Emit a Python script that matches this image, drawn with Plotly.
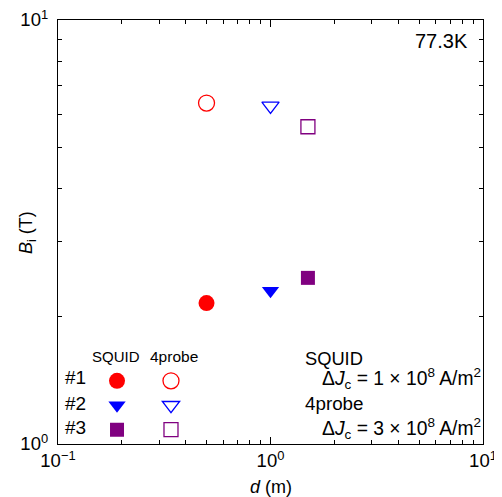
import plotly.graph_objects as go

# ---- data ----
samples = ["#1", "#2", "#3"]
d_m = [0.5, 1.0, 1.5]
Bi_squid = [2.15, 2.30, 2.465]
Bi_4probe = [6.37, 6.27, 5.60]
colors = ["red", "blue", "purple"]
squid_symbols = ["circle", "triangle-down", "square"]
probe_symbols = ["circle-open", "triangle-down-open", "square-open"]
marker_sizes = [16, 15, 14]
x_tickvals = [0.1, 1, 10]
x_ticktext = ["10<sup>\u22121</sup>", "10<sup>0</sup>", "10<sup>1</sup>"]
y_tickvals = [1, 10]
y_ticktext = ["10<sup>0</sup>", "10<sup>1</sup>"]

FONT = "Arial, Liberation Sans, sans-serif"

fig = go.Figure()
for i, s in enumerate(samples):
    fig.add_trace(go.Scatter(
        x=[d_m[i]], y=[Bi_squid[i]], mode="markers", name="",
        legend="legend", legendrank=i + 1,
        marker=dict(symbol=squid_symbols[i], color=colors[i], size=marker_sizes[i],
                    line=dict(width=0)),
    ))
for i, s in enumerate(samples):
    fig.add_trace(go.Scatter(
        x=[d_m[i]], y=[Bi_4probe[i]], mode="markers", name="",
        legend="legend2", legendrank=i + 1,
        marker=dict(symbol=probe_symbols[i], color=colors[i], size=marker_sizes[i],
                    line=dict(width=1.3, color=colors[i])),
    ))

axis_common = dict(
    type="log", showgrid=False, zeroline=False, automargin=False,
    showline=True, linecolor="black", linewidth=1.3, mirror="ticks",
    ticks="inside", ticklen=7, tickwidth=1, tickcolor="black",
    minor=dict(ticks="inside", ticklen=4, tickwidth=1, tickcolor="black", dtick="D1"),
    tickfont=dict(family=FONT, size=18.5, color="black"),
    tickmode="array", ticklabeloverflow="allow",
)

fig.update_xaxes(**axis_common, range=[-1, 1], tickvals=x_tickvals, ticktext=x_ticktext)
fig.update_yaxes(**axis_common, range=[0, 1], tickvals=y_tickvals, ticktext=y_ticktext,
                 ticklabelstandoff=5)

legend_common = dict(
    xanchor="left", yanchor="top", bgcolor="rgba(0,0,0,0)", borderwidth=0,
    font=dict(family=FONT, size=16.5, color="black"), tracegroupgap=0, itemwidth=30,
)
fig.update_layout(
    legend=dict(**legend_common, x=0.0918, y=0.1897),
    legend2=dict(**legend_common, x=0.2188, y=0.1897),
)

annotations = []
for s, yy in zip(samples, [0.1565, 0.0953, 0.0387]):
    annotations.append(dict(text=s, x=0.012, y=yy, xref="paper", yref="paper",
                            xanchor="left", yanchor="middle", showarrow=False,
                            font=dict(family=FONT, size=19, color="black")))
annotations += [
    dict(text="SQUID", x=0.1365, y=0.2073, xref="paper", yref="paper", xanchor="center",
         yanchor="middle", showarrow=False, font=dict(family=FONT, size=15, color="black")),
    dict(text="4probe", x=0.2718, y=0.2073, xref="paper", yref="paper", xanchor="center",
         yanchor="middle", showarrow=False, font=dict(family=FONT, size=15.5, color="black")),
    dict(text="<i>d</i> (m)", x=0.5, y=-0.1013, xref="paper", yref="paper", xanchor="center",
         yanchor="middle", showarrow=False, font=dict(family=FONT, size=18, color="black")),
    dict(text="<i>B</i><sub>i</sub> (T)", x=-0.073, y=0.5, xref="paper", yref="paper",
         xanchor="center", yanchor="middle", textangle=-90, showarrow=False,
         font=dict(family=FONT, size=18, color="black")),
    dict(text="77.3K", x=0.9694, y=0.9505, xref="paper", yref="paper", xanchor="right",
         yanchor="middle", showarrow=False, font=dict(family=FONT, size=20, color="black")),
    dict(text="SQUID", x=0.5765, y=0.2026, xref="paper", yref="paper", xanchor="left",
         yanchor="middle", showarrow=False, font=dict(family=FONT, size=18.3, color="black")),
    dict(text="\u0394<i>J</i><sub>c</sub> = 1 \u00d7 10<sup>8</sup> A/m<sup>2</sup>", x=1.0, y=0.1555,
         xref="paper", yref="paper", xanchor="right", yanchor="middle", showarrow=False,
         font=dict(family=FONT, size=19.3, color="black")),
    dict(text="4probe", x=0.5765, y=0.0966, xref="paper", yref="paper", xanchor="left",
         yanchor="middle", showarrow=False, font=dict(family=FONT, size=18.8, color="black")),
    dict(text="\u0394<i>J</i><sub>c</sub> = 3 \u00d7 10<sup>8</sup> A/m<sup>2</sup>", x=1.0, y=0.0377,
         xref="paper", yref="paper", xanchor="right", yanchor="middle", showarrow=False,
         font=dict(family=FONT, size=19.3, color="black")),
]

# the page body has an 8px margin, so the figure is 8px smaller and its margins shifted
fig.update_layout(
    width=494, height=489,
    margin=dict(l=50, r=19, t=11.5, b=53, pad=0, autoexpand=False),
    paper_bgcolor="white", plot_bgcolor="white",
    font=dict(family=FONT, color="black"),
    showlegend=True,
    annotations=annotations,
)

fig.write_html("out.html")
